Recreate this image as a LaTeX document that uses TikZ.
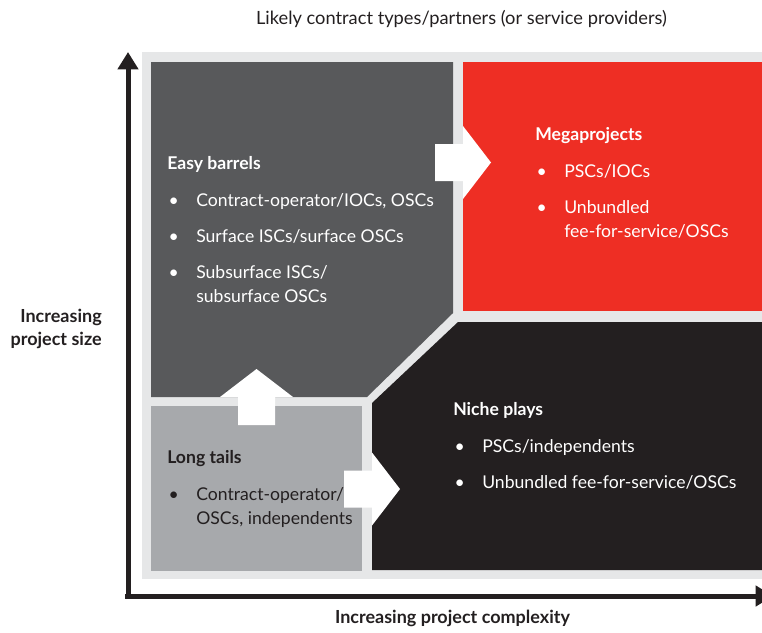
\documentclass[tikz,border=0pt]{standalone}
\usepackage{fontspec}
\setmainfont{Lato}
\usetikzlibrary{arrows.meta}

\definecolor{panelgrey}{HTML}{E6E7E8}
\definecolor{easygrey}{HTML}{58595B}
\definecolor{megared}{HTML}{EE2E24}
\definecolor{nicheblack}{HTML}{231F20}
\definecolor{tailgrey}{HTML}{A7A9AC}

\newcommand{\bul}{\makebox[21.75pt][l]{\hspace{1pt}\textbullet}}
\newcommand{\ind}{\hspace*{21.75pt}}

\tikzset{
    quadtext/.style={anchor=north west, align=left, inner sep=0pt, font=\fontsize{13.2}{18}\selectfont},
    axislabel/.style={inner sep=0pt, nicheblack, font=\fontsize{13.5}{17.25}\selectfont\bfseries},
    axis/.style={line width=3.75pt, nicheblack, -{Triangle[length=13pt,width=15pt]}},
}

\begin{document}
\begin{tikzpicture}[x=0.75pt,y=-0.75pt]
    \useasboundingbox (0,0) rectangle (762,632);
    % panel and quadrants
    \fill[panelgrey] (142,52) rectangle (762,579);
    \fill[easygrey] (151,62) -- (453,62) -- (453,313) -- (367,397) -- (151,397) -- cycle;
    \fill[megared] (463,62) rectangle (762,311);
    \fill[nicheblack] (458,322) -- (762,322) -- (762,570) -- (372,570) -- (372,403) -- cycle;
    \fill[tailgrey] (151,406) rectangle (362,571);
    % block arrows
    \foreach \px/\py/\rot in {435/162.5/0, 256.5/425/90, 344/489/0} {
        \fill[white, shift={(\px,\py)}, rotate=\rot] (0,-18.5) -- (28,-18.5) -- (28,-36.5) -- (56,0) -- (28,36.5) -- (28,18.5) -- (0,18.5) -- cycle;
    }
    % axes
    \draw[axis] (128,599) -- (128,52);
    \draw[axis] (125,596) -- (773,596);
    % texts
    \node[quadtext, white] (easy) at (167,156) {\textbf{Easy barrels}\\[9.75pt]
        \bul Contract-operator/IOCs, OSCs\\[9pt]
        \bul Surface ISCs/surface OSCs\\[9pt]
        \bul Subsurface ISCs/\\
        \ind subsurface OSCs};
    \node[quadtext, white] (mega) at (535,127) {\textbf{Megaprojects}\\[9.75pt]
        \bul PSCs/IOCs\\[9pt]
        \bul Unbundled\\
        \ind fee-for-service/OSCs};
    \node[quadtext, white] (niche) at (453,402) {\textbf{Niche plays}\\[9.75pt]
        \bul PSCs/independents\\[9pt]
        \bul Unbundled fee-for-service/OSCs};
    \node[quadtext, nicheblack] (tails) at (167,450) {\textbf{Long tails}\\[9.75pt]
        \bul Contract-operator/\\
        \ind OSCs, independents};
    \node[inner sep=0pt, anchor=base, nicheblack, font=\fontsize{13.7}{18}\selectfont] (title) at (461.5,24) {Likely contract types/partners (or service providers)};
    \node[axislabel, anchor=base] (xlabel) at (452.5,623) {Increasing project complexity};
    \node[axislabel, anchor=north east, align=right] (ylabel) at (102,309) {Increasing\\project size};
\end{tikzpicture}
\end{document}
